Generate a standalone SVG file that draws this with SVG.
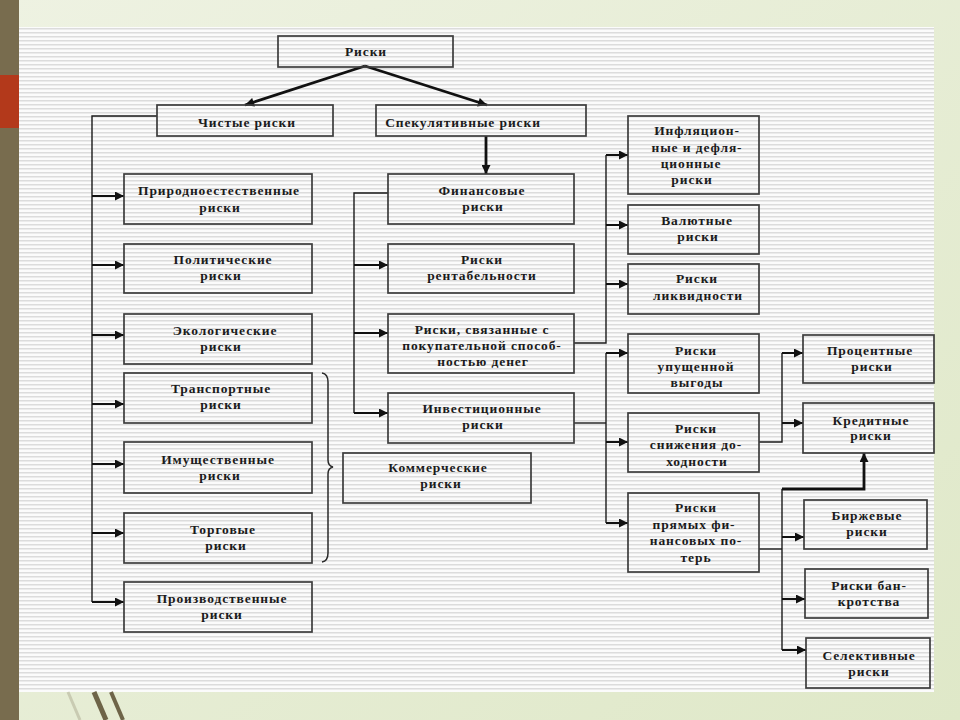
<svg xmlns="http://www.w3.org/2000/svg" width="960" height="720" viewBox="0 0 960 720">
<defs>
<linearGradient id="bg" x1="0" y1="0" x2="1" y2="1">
<stop offset="0" stop-color="#eef2e2"/>
<stop offset="1" stop-color="#dfe8c8"/>
</linearGradient>
<pattern id="lines" width="8" height="4" patternUnits="userSpaceOnUse">
<rect width="8" height="4" fill="#fbfbfb"/>
<rect y="0" width="8" height="1.5" fill="#dcdcdc"/>
</pattern>
<marker id="ah" viewBox="0 0 10 10" refX="10" refY="5" markerWidth="11" markerHeight="9" markerUnits="userSpaceOnUse" orient="auto">
<path d="M0,0 L10,5 L0,10 z" fill="#111"/>
</marker>
<style>
.box{fill:none;stroke:#3c3c3c;stroke-width:1.7}
.t{font-family:"Liberation Serif","Times New Roman",serif;font-weight:bold;font-size:13.5px;fill:#1b1b1b;text-anchor:middle;letter-spacing:0.9px}
.ln{fill:none;stroke:#1a1a1a;stroke-width:1.4}
.ar{fill:none;stroke:#111;stroke-width:2;marker-end:url(#ah)}
.thk{fill:none;stroke:#111;stroke-width:2.8;marker-end:url(#ah)}
</style>
</defs>
<rect width="960" height="720" fill="url(#bg)"/>
<rect x="0" y="0" width="19" height="720" fill="#786c4e"/>
<rect x="0" y="75" width="19" height="53" fill="#b3391b"/>
<rect x="19" y="27" width="915" height="665" fill="url(#lines)"/>
<g id="decor" stroke-linecap="butt">
<line x1="68" y1="692" x2="80" y2="720" stroke="#c9cbb2" stroke-width="3"/>
<line x1="94" y1="692" x2="106" y2="720" stroke="#6e6448" stroke-width="5"/>
<line x1="111" y1="692" x2="123" y2="720" stroke="#6e6448" stroke-width="4"/>
</g>

<g id="connectors">
<line class="thk" x1="365" y1="66" x2="245" y2="105"/>
<line class="thk" x1="365" y1="66" x2="487" y2="105"/>
<line class="thk" x1="486" y1="136" x2="486" y2="174"/>
<polyline class="ln" points="157,116 92,116 92,602"/>
<line class="ar" x1="92" y1="196" x2="124" y2="196"/>
<line class="ar" x1="92" y1="265" x2="124" y2="265"/>
<line class="ar" x1="92" y1="335" x2="124" y2="335"/>
<line class="ar" x1="92" y1="404" x2="124" y2="404"/>
<line class="ar" x1="92" y1="464" x2="124" y2="464"/>
<line class="ar" x1="92" y1="533" x2="124" y2="533"/>
<line class="ar" x1="92" y1="602" x2="124" y2="602"/>
<path d="M322,373 Q328,374 328,382 L328,460 Q328,466 333,467 Q328,468 328,474 L328,553 Q328,561 322,562" fill="none" stroke="#2a2a2a" stroke-width="1.5"/>
<polyline class="ln" points="388,193 354,193 354,413"/>
<line class="ar" x1="354" y1="265" x2="388" y2="265"/>
<line class="ar" x1="354" y1="333" x2="388" y2="333"/>
<line class="ar" x1="354" y1="413" x2="388" y2="413"/>
<polyline class="ln" points="574,343 606,343 606,155"/>
<line class="ar" x1="606" y1="155" x2="628" y2="155"/>
<line class="ar" x1="606" y1="225" x2="628" y2="225"/>
<line class="ar" x1="606" y1="284" x2="628" y2="284"/>
<polyline class="ln" points="574,423 606,423"/>
<line class="ln" x1="606" y1="353" x2="606" y2="523"/>
<line class="ar" x1="606" y1="353" x2="628" y2="353"/>
<line class="ar" x1="606" y1="442" x2="628" y2="442"/>
<line class="ar" x1="606" y1="523" x2="628" y2="523"/>
<polyline class="ln" points="759,442 782,442 782,353"/>
<line class="ar" x1="782" y1="353" x2="803" y2="353"/>
<line class="ar" x1="782" y1="423" x2="803" y2="423"/>
<polyline class="ln" points="759,549 782,549"/>
<line class="ln" x1="782" y1="489" x2="782" y2="650"/>
<polyline class="thk" points="782,489 864,489 864,453"/>
<line class="ar" x1="782" y1="537" x2="804" y2="537"/>
<line class="ar" x1="782" y1="599" x2="805" y2="599"/>
<line class="ar" x1="782" y1="650" x2="806" y2="650"/>
</g>

<g id="n-riski"><rect class="box" x="278" y="36" width="175" height="31"/><text class="t" x="366" y="56">Риски</text></g>
<g id="n-chistye"><rect class="box" x="157" y="105" width="176" height="31"/><text class="t" x="247" y="127">Чистые риски</text></g>
<g id="n-spekul"><rect class="box" x="376" y="105" width="210" height="31"/><text class="t" x="463" y="127">Спекулятивные риски</text></g>

<g id="n-prirod"><rect class="box" x="124" y="174" width="188" height="50"/><text class="t" x="219" y="195">Природноестественные</text><text class="t" x="220" y="212">риски</text></g>
<g id="n-polit"><rect class="box" x="124" y="244" width="188" height="49"/><text class="t" x="223" y="264">Политические</text><text class="t" x="221" y="280">риски</text></g>
<g id="n-ekol"><rect class="box" x="124" y="314" width="188" height="50"/><text class="t" x="225" y="335">Экологические</text><text class="t" x="221" y="351">риски</text></g>
<g id="n-transp"><rect class="box" x="124" y="373" width="188" height="50"/><text class="t" x="221" y="393">Транспортные</text><text class="t" x="221" y="409">риски</text></g>
<g id="n-imush"><rect class="box" x="124" y="442" width="188" height="51"/><text class="t" x="218" y="464">Имущественные</text><text class="t" x="220" y="480">риски</text></g>
<g id="n-torg"><rect class="box" x="124" y="513" width="188" height="50"/><text class="t" x="223" y="534">Торговые</text><text class="t" x="226" y="550">риски</text></g>
<g id="n-proizv"><rect class="box" x="124" y="582" width="188" height="50"/><text class="t" x="222" y="603">Производственные</text><text class="t" x="222" y="619">риски</text></g>
<g id="n-kommer"><rect class="box" x="343" y="453" width="188" height="50"/><text class="t" x="438" y="472">Коммерческие</text><text class="t" x="441" y="488">риски</text></g>

<g id="n-finans"><rect class="box" x="388" y="174" width="186" height="50"/><text class="t" x="482" y="195">Финансовые</text><text class="t" x="483" y="211">риски</text></g>
<g id="n-rentab"><rect class="box" x="388" y="244" width="186" height="49"/><text class="t" x="482" y="264">Риски</text><text class="t" x="482" y="280">рентабельности</text></g>
<g id="n-pokup"><rect class="box" x="388" y="314" width="186" height="59"/><text class="t" x="482" y="334">Риски, связанные с</text><text class="t" x="482" y="350">покупательной способ-</text><text class="t" x="483" y="366">ностью денег</text></g>
<g id="n-invest"><rect class="box" x="388" y="393" width="186" height="50"/><text class="t" x="482" y="413">Инвестиционные</text><text class="t" x="483" y="429">риски</text></g>

<g id="n-infl"><rect class="box" x="628" y="116" width="131" height="78"/><text class="t" x="697" y="135">Инфляцион-</text><text class="t" x="697" y="152">ные и дефля-</text><text class="t" x="691" y="168">ционные</text><text class="t" x="692" y="184">риски</text></g>
<g id="n-valut"><rect class="box" x="628" y="205" width="131" height="49"/><text class="t" x="697" y="225">Валютные</text><text class="t" x="698" y="241">риски</text></g>
<g id="n-likv"><rect class="box" x="628" y="264" width="131" height="50"/><text class="t" x="697" y="283">Риски</text><text class="t" x="698" y="300">ликвидности</text></g>
<g id="n-upush"><rect class="box" x="628" y="334" width="131" height="59"/><text class="t" x="696" y="355">Риски</text><text class="t" x="696" y="371">упущенной</text><text class="t" x="697" y="387">выгоды</text></g>
<g id="n-snizh"><rect class="box" x="628" y="413" width="131" height="59"/><text class="t" x="696" y="433">Риски</text><text class="t" x="696" y="449">снижения до-</text><text class="t" x="697" y="466">ходности</text></g>
<g id="n-pryam"><rect class="box" x="628" y="493" width="131" height="79"/><text class="t" x="696" y="512">Риски</text><text class="t" x="694" y="529">прямых фи-</text><text class="t" x="696" y="545">нансовых по-</text><text class="t" x="696" y="562">терь</text></g>

<g id="n-proc"><rect class="box" x="803" y="335" width="131" height="48"/><text class="t" x="870" y="355">Процентные</text><text class="t" x="872" y="371">риски</text></g>
<g id="n-kred"><rect class="box" x="803" y="403" width="131" height="50"/><text class="t" x="871" y="425">Кредитные</text><text class="t" x="871" y="440">риски</text></g>
<g id="n-birzh"><rect class="box" x="804" y="500" width="123" height="49"/><text class="t" x="867" y="520">Биржевые</text><text class="t" x="867" y="536">риски</text></g>
<g id="n-bankr"><rect class="box" x="805" y="569" width="123" height="49"/><text class="t" x="869" y="590">Риски бан-</text><text class="t" x="869" y="606">кротства</text></g>
<g id="n-selek"><rect class="box" x="806" y="638" width="124" height="50"/><text class="t" x="869" y="660">Селективные</text><text class="t" x="869" y="676">риски</text></g>
</svg>
